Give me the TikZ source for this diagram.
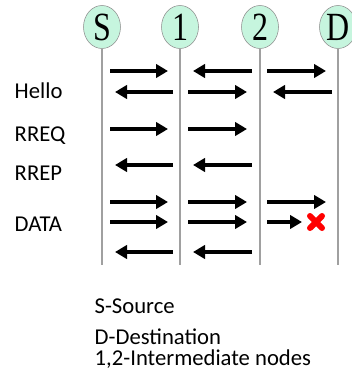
\documentclass[tikz,border=0pt]{standalone}
\usepackage{fontspec}
\setmainfont{Carlito}
\newfontfamily\stationfont{Liberation Serif}
\usetikzlibrary{arrows.meta,shapes.geometric}
\definecolor{stationfill}{HTML}{C6F5DE}
\definecolor{stationline}{HTML}{8C8C8C}
\definecolor{lifeline}{HTML}{A0A0A0}
\begin{document}
\begin{tikzpicture}[x=0.75pt,y=-0.75pt,
    station/.style={ellipse,draw=stationline,fill=stationfill,minimum width=27.75pt,minimum height=32.25pt,inner sep=0pt,font=\stationfont\fontsize{24}{24}\selectfont},
    msg/.style={line width=3.4pt,-{Triangle[length=9pt,width=10pt]}},
    kind/.style={anchor=west,font=\fontsize{17}{18}\selectfont},
    legend/.style={anchor=west,font=\fontsize{17}{18}\selectfont}]
    \useasboundingbox (0,0) rectangle (352,381);

    % stations and their lifelines
    \node[station] (S)  at (102,27) {\scalebox{1}[1.25]{S}};
    \node[station] (n1) at (180,27) {\scalebox{1}[1.25]{1}};
    \node[station] (n2) at (260,27) {\scalebox{1}[1.25]{2}};
    \node[station] (D)  at (338,27) {\scalebox{1}[1.25]{D}};
    \foreach \s in {S,n1,n2,D}
        \draw[lifeline,line width=0.8pt] (\s.south) -- (\s.south |- 0,265);

    % message kinds
    \node[kind] (hello) at (10,91)  {Hello};
    \node[kind] (rreq)  at (10,136) {RREQ};
    \node[kind] (rrep)  at (10,173) {RREP};
    \node[kind] (data)  at (10,224) {DATA};

    % Hello
    \draw[msg] (110,71) -- (168,71);
    \draw[msg] (252,71) -- (193,71);
    \draw[msg] (267,71) -- (326,71);
    \draw[msg] (173,92) -- (115,92);
    \draw[msg] (188,92) -- (247,92);
    \draw[msg] (332,92) -- (273,92);

    % RREQ and RREP
    \draw[msg] (110,129) -- (168,129);
    \draw[msg] (188,129) -- (247,129);
    \draw[msg] (173,165) -- (115,165);
    \draw[msg] (252,165) -- (193,165);

    % DATA
    \foreach \y in {202,222} {
        \draw[msg] (110,\y) -- (168,\y);
        \draw[msg] (188,\y) -- (247,\y);
    }
    \draw[msg] (267,202) -- (326,202);
    \draw[msg] (267,222) -- (302,222);
    \draw[msg] (173,252) -- (115,252);
    \draw[msg] (252,252) -- (193,252);

    % lost packet
    \draw[red,line width=4.5pt,line cap=round] (310,216) -- (322,228) (310,228) -- (322,216);

    % legend
    \node[legend] (src) at (90,306) {S-Source};
    \node[legend] (dst) at (90,337) {D-Destination};
    \node[legend] (mid) at (90,359) {1,2-Intermediate nodes};
\end{tikzpicture}
\end{document}
